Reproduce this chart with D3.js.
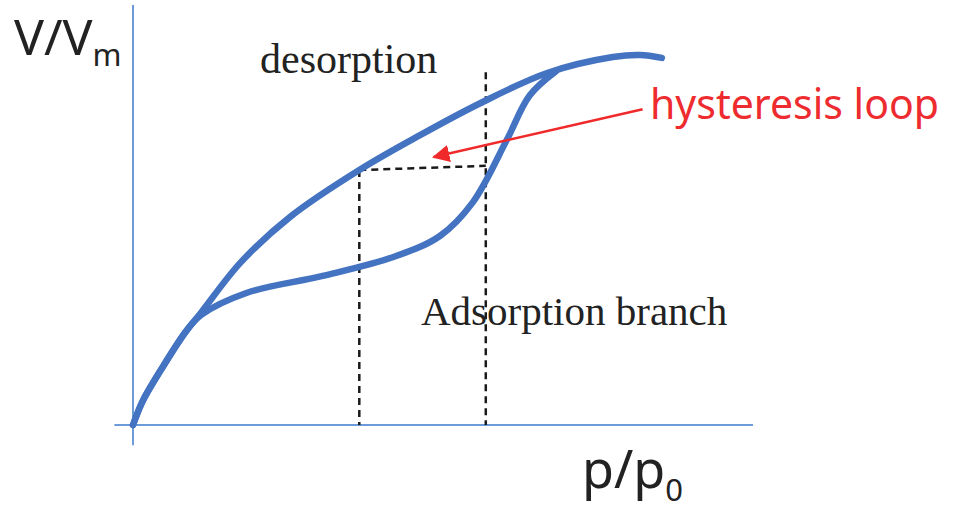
<!DOCTYPE html>
<html>
<head>
<meta charset="utf-8">
<script src="https://cdn.jsdelivr.net/npm/d3@7"></script>
<style>
  body { margin: 0; background: #fff; }
</style>
</head>
<body>
<svg id="chart"></svg>
<script>
// relative pressure p/p0 and adsorbed amount V/Vm
const adsX = [0, 0.016, 0.050, 0.085, 0.110, 0.184, 0.306, 0.420, 0.495, 0.548, 0.603, 0.640, 0.682];
const adsY = [0, 0.058, 0.143, 0.222, 0.262, 0.315, 0.355, 0.400, 0.450, 0.530, 0.679, 0.785, 0.842];

const desX = [0, 0.016, 0.050, 0.085, 0.110, 0.173, 0.253, 0.365, 0.463, 0.560, 0.668, 0.774, 0.818, 0.853];
const desY = [0, 0.058, 0.143, 0.222, 0.268, 0.386, 0.495, 0.607, 0.690, 0.766, 0.838, 0.876, 0.881, 0.874];

// dashed guide lines: [x, yTop] for the two verticals
const guideX = [0.365, 0.569];
const guideTop = [0.607, 0.840];
const guideMid = [0.607, 0.617];

// arrow from label to loop
const arrowX = [0.822, 0.485];
const arrowY = [0.752, 0.638];

const width = 953, height = 511;

const svg = d3.select('#chart')
    .attr('width', width)
    .attr('height', height);

const x = d3.scaleLinear().domain([0, 1]).range([133, 753]);
const y = d3.scaleLinear().domain([0, 1]).range([425, 5]);

const axisColor = '#6b9bd8';
const curveColor = '#4473c2';

// axes
svg.append('line')
    .attr('x1', x(0)).attr('x2', x(0))
    .attr('y1', y(-0.048)).attr('y2', y(1))
    .attr('stroke', axisColor).attr('stroke-width', 2);
svg.append('line')
    .attr('x1', x(-0.03)).attr('x2', x(1))
    .attr('y1', y(0)).attr('y2', y(0))
    .attr('stroke', axisColor).attr('stroke-width', 2);

// dashed guides
const dash = svg.append('g')
    .attr('stroke', '#1a1a1a')
    .attr('stroke-width', 2.5)
    .attr('stroke-dasharray', '7,5')
    .attr('fill', 'none');
guideX.forEach((gx, i) => {
  dash.append('line')
      .attr('x1', x(gx)).attr('x2', x(gx))
      .attr('y1', y(guideTop[i])).attr('y2', y(0));
});
dash.append('line')
    .attr('x1', x(guideX[0])).attr('y1', y(guideMid[0]))
    .attr('x2', x(guideX[1])).attr('y2', y(guideMid[1]));

// isotherm branches
const line = d3.line()
    .x(d => x(d[0]))
    .y(d => y(d[1]))
    .curve(d3.curveCatmullRom.alpha(0.5));

svg.append('path')
    .datum(d3.zip(adsX, adsY))
    .attr('d', line)
    .attr('fill', 'none')
    .attr('stroke', curveColor)
    .attr('stroke-width', 6.5)
    .attr('stroke-linecap', 'round');

svg.append('path')
    .datum(d3.zip(desX, desY))
    .attr('d', line)
    .attr('fill', 'none')
    .attr('stroke', curveColor)
    .attr('stroke-width', 6.5)
    .attr('stroke-linecap', 'round');

// arrow
svg.append('defs').append('marker')
    .attr('id', 'head')
    .attr('viewBox', '0 0 10 10')
    .attr('refX', 9).attr('refY', 5)
    .attr('markerWidth', 7).attr('markerHeight', 7)
    .attr('orient', 'auto')
    .append('path')
    .attr('d', 'M0,0L10,5L0,10z')
    .attr('fill', '#f02a2a');

svg.append('line')
    .attr('x1', x(arrowX[0])).attr('y1', y(arrowY[0]))
    .attr('x2', x(arrowX[1])).attr('y2', y(arrowY[1]))
    .attr('stroke', '#f02a2a')
    .attr('stroke-width', 2.5)
    .attr('marker-end', 'url(#head)');

// labels
const yLab = svg.append('text')
    .attr('x', 14).attr('y', 55)
    .style('font-family', 'Noto Sans')
    .style('font-size', '50px')
    .attr('fill', '#222');
yLab.append('tspan').text('V/V');
yLab.append('tspan').text('m').attr('dy', 11).style('font-size', '31px');

const xLab = svg.append('text')
    .attr('x', 582).attr('y', 488)
    .style('font-family', 'Noto Sans')
    .style('font-size', '52px')
    .attr('fill', '#222');
xLab.append('tspan').text('p/p');
xLab.append('tspan').text('0').attr('dy', 13).style('font-size', '31px');

svg.append('text')
    .attr('x', 260).attr('y', 73)
    .text('desorption')
    .style('font-family', 'Liberation Serif')
    .style('font-size', '42px')
    .attr('fill', '#222');

svg.append('text')
    .attr('x', 421).attr('y', 325)
    .text('Adsorption branch')
    .style('font-family', 'Liberation Serif')
    .style('font-size', '41px')
    .attr('fill', '#222');

svg.append('text')
    .attr('x', 650).attr('y', 119)
    .text('hysteresis loop')
    .style('font-family', 'Noto Sans')
    .style('font-size', '41px')
    .attr('fill', '#ee2b2f');
</script>
</body>
</html>
